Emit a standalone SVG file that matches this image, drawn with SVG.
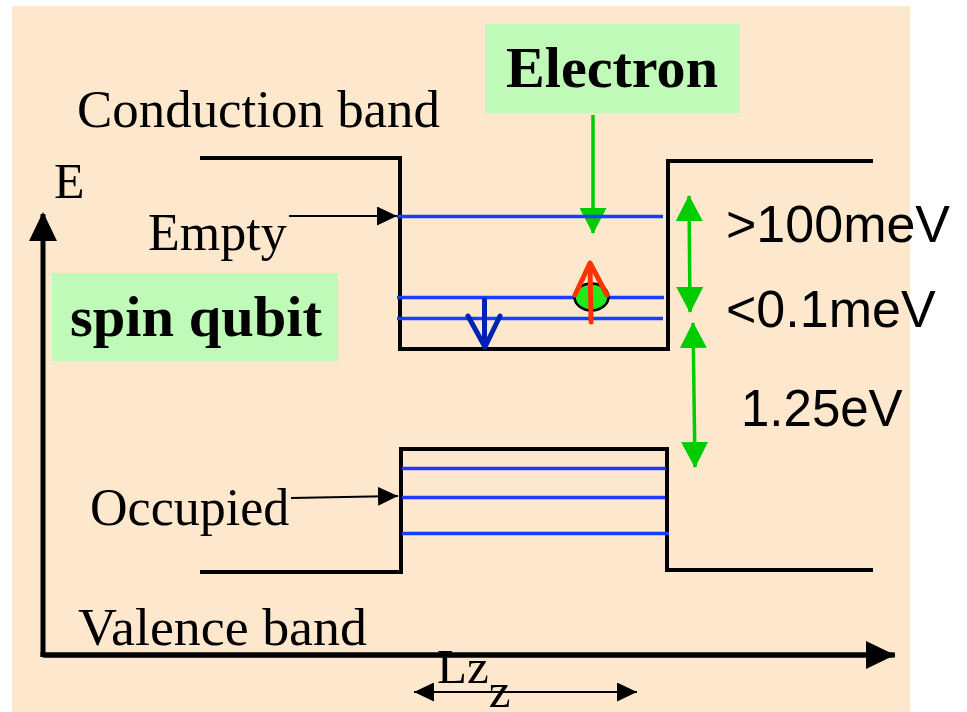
<svg xmlns="http://www.w3.org/2000/svg" width="967" height="712" viewBox="0 0 967 712">
<defs>
<style>
.serif{font-family:"Liberation Serif","Times New Roman",serif;fill:#000}
.sans{font-family:"Liberation Sans",Arial,sans-serif;fill:#000}
.band{fill:none;stroke:#000;stroke-width:4;stroke-linejoin:miter}
.lvl{stroke:#1a3cff;stroke-width:3.5}
.green{stroke:#00cc00;stroke-width:3.5;fill:none}
.thin{stroke:#000;stroke-width:2;fill:none}
.box{fill:#c0fab8}
</style>
<marker id="gh" markerUnits="userSpaceOnUse" markerWidth="26" markerHeight="27" refX="25" refY="13.5" orient="auto-start-reverse" viewBox="0 0 26 27"><path d="M0,0 L26,13.5 L0,27 z" fill="#00cc00"/></marker>
<marker id="bh" markerUnits="userSpaceOnUse" markerWidth="20" markerHeight="19" refX="20" refY="9.5" orient="auto-start-reverse" viewBox="0 0 20 19"><path d="M0,0 L20,9.5 L0,19 z" fill="#000"/></marker>
<marker id="ah" markerUnits="userSpaceOnUse" markerWidth="29" markerHeight="28" refX="27" refY="14" orient="auto" viewBox="0 0 29 28"><path d="M0,0 L29,14 L0,28 z" fill="#000"/></marker>
</defs>
<rect x="12" y="6" width="898" height="706" fill="#fde8cd"/>

<g id="connectors">
<polyline points="43,657 43,655 895,655" fill="none" stroke="#000" stroke-width="5"/>
<line x1="43" y1="657" x2="43" y2="214" stroke="#000" stroke-width="5" marker-end="url(#ah)"/>
<line x1="43" y1="655" x2="893" y2="655" stroke="#000" stroke-width="5" marker-end="url(#ah)"/>
<line x1="289" y1="216" x2="397" y2="216" class="thin" marker-end="url(#bh)"/>
<line x1="291" y1="498" x2="398" y2="496" class="thin" marker-end="url(#bh)"/>
<line x1="593" y1="115" x2="593" y2="233" class="green" marker-end="url(#gh)"/>
<line x1="689" y1="196" x2="690" y2="312" class="green" marker-start="url(#gh)" marker-end="url(#gh)"/>
<line x1="693" y1="323" x2="695" y2="467" class="green" marker-start="url(#gh)" marker-end="url(#gh)"/>
<line x1="414" y1="692" x2="637" y2="692" class="thin" marker-start="url(#bh)" marker-end="url(#bh)"/>
</g>

<g id="conduction-band">
<polyline class="band" points="200,158 400,158 400,349 668,349 668,161 873,161"/>
<line class="lvl" x1="397" y1="216.5" x2="663" y2="216.5"/>
<line class="lvl" x1="397" y1="297.5" x2="664" y2="297.5"/>
<line class="lvl" x1="397" y1="318.5" x2="663" y2="318.5"/>
</g>

<g id="valence-band">
<polyline class="band" points="200,572 401,572 401,449 667,449 667,570 873,570"/>
<line class="lvl" x1="402" y1="468.5" x2="666" y2="468.5"/>
<line class="lvl" x1="402" y1="497.5" x2="665" y2="497.5"/>
<line class="lvl" x1="402" y1="533.5" x2="669" y2="533.5"/>
</g>

<g id="electron">
<ellipse cx="591.5" cy="297" rx="17" ry="13.5" fill="#1eea1e" stroke="#000" stroke-width="2.5"/>
<g stroke="#ff3300" stroke-width="5" stroke-linecap="round" stroke-linejoin="round" fill="none">
<line x1="591" y1="322" x2="590" y2="264"/>
<polyline points="575,295 590,263 607,295"/>
</g>
</g>

<g id="spin-down" stroke="#0022b4" stroke-width="5" stroke-linecap="round" stroke-linejoin="round" fill="none">
<line x1="484.5" y1="300" x2="484.5" y2="346"/>
<polyline points="468,316 485,347 500,316"/>
</g>

<g id="label-electron">
<rect class="box" x="485" y="24" width="255" height="89"/>
<text class="serif" x="506" y="87" font-size="58" font-weight="bold" textLength="212" lengthAdjust="spacingAndGlyphs">Electron</text>
</g>

<g id="label-spin-qubit">
<rect class="box" x="52" y="273" width="286" height="88"/>
<text class="serif" x="70" y="336" font-size="58" font-weight="bold" textLength="252" lengthAdjust="spacingAndGlyphs">spin qubit</text>
</g>

<g id="labels">
<text class="serif" x="77" y="127" font-size="53" textLength="363" lengthAdjust="spacingAndGlyphs">Conduction band</text>
<text class="serif" x="54" y="198" font-size="50">E</text>
<text class="serif" x="148" y="250" font-size="52">Empty</text>
<text class="serif" x="90" y="525" font-size="52">Occupied</text>
<text class="serif" x="78" y="645" font-size="53" textLength="289" lengthAdjust="spacingAndGlyphs">Valence band</text>
<text class="serif" x="437" y="683" font-size="49">Lz<tspan dy="24">z</tspan></text>
<text class="sans" x="726" y="242" font-size="52">&gt;100meV</text>
<text class="sans" x="726" y="327" font-size="52">&lt;0.1meV</text>
<text class="sans" x="741" y="426" font-size="51">1.25eV</text>
</g>
</svg>
